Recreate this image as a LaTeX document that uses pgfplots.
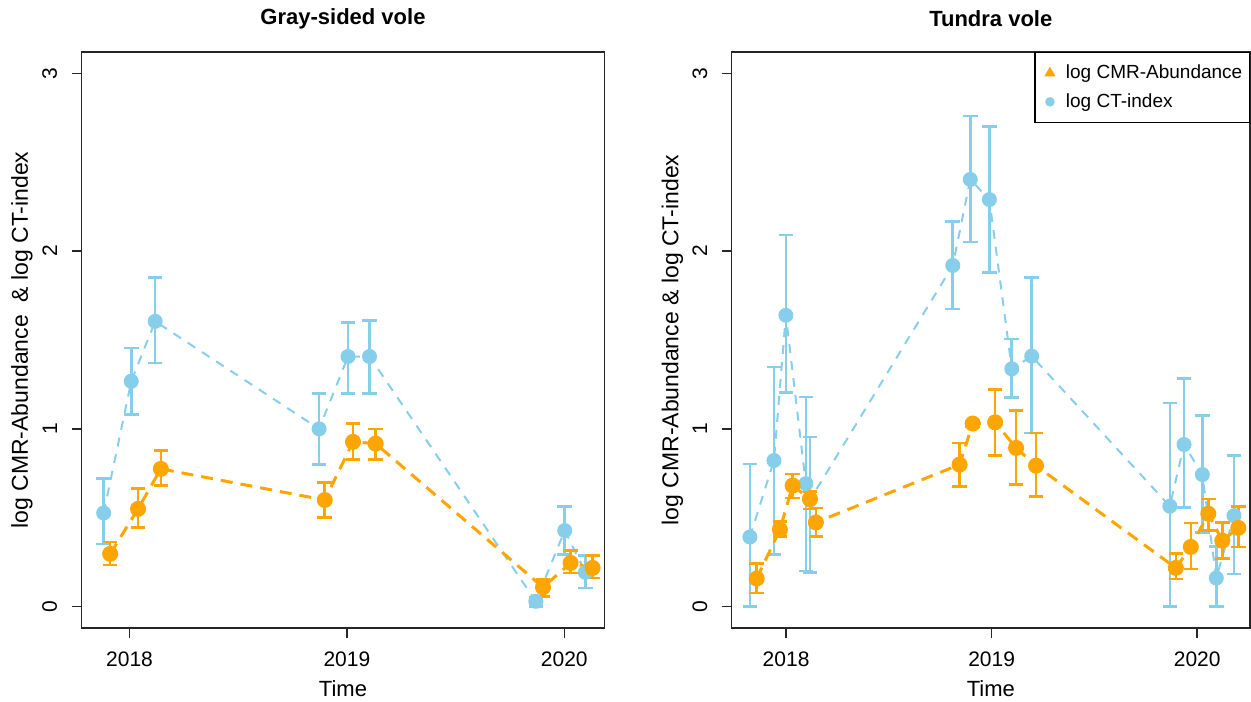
\documentclass[border=0pt]{standalone}
\usepackage{fontspec}
\setmainfont{Liberation Sans}
\usepackage{pgfplots}
\usepackage{pgfplotstable}
\pgfplotsset{compat=1.18}
\definecolor{sky}{HTML}{87CEEB}
\definecolor{org}{HTML}{FFA500}

% x y lo hi
\pgfplotstableread{
x y lo hi
2017.881 0.527 0.353 0.720
2018.008 1.268 1.080 1.456
2018.118 1.605 1.371 1.850
2018.872 1.000 0.800 1.200
2019.005 1.407 1.200 1.600
2019.104 1.407 1.200 1.610
2019.869 0.030 0.000 0.050
2020.002 0.428 0.293 0.564
2020.097 0.193 0.105 0.287
}\grayCT
\pgfplotstableread{
x y lo hi
2017.911 0.297 0.235 0.364
2018.039 0.550 0.446 0.664
2018.144 0.775 0.681 0.878
2018.898 0.600 0.500 0.700
2019.028 0.927 0.827 1.030
2019.132 0.917 0.827 1.000
2019.902 0.109 0.058 0.152
2020.029 0.246 0.190 0.315
2020.130 0.218 0.161 0.287
}\grayCMR
\pgfplotstableread{
x y lo hi
2017.824 0.392 0.000 0.803
2017.941 0.822 0.293 1.347
2017.999 1.639 1.203 2.090
2018.096 0.692 0.200 1.180
2018.116 0.600 0.193 0.955
2018.811 1.919 1.675 2.168
2018.896 2.403 2.052 2.759
2018.989 2.290 1.881 2.700
2019.098 1.338 1.178 1.506
2019.195 1.409 0.977 1.850
2019.867 0.565 0.000 1.146
2019.936 0.912 0.559 1.283
2020.025 0.743 0.418 1.075
2020.093 0.161 0.000 0.339
2020.179 0.512 0.184 0.850
}\tundraCT
\pgfplotstableread{
x y lo hi
2017.857 0.158 0.077 0.242
2017.970 0.433 0.396 0.480
2018.032 0.681 0.612 0.747
2018.116 0.606 0.550 0.649
2018.145 0.474 0.396 0.555
2018.844 0.799 0.677 0.921
2018.908 1.030 1.010 1.045
2019.017 1.037 0.850 1.221
2019.119 0.893 0.687 1.105
2019.216 0.793 0.621 0.977
2019.896 0.218 0.156 0.298
2019.969 0.336 0.212 0.471
2020.054 0.523 0.429 0.606
2020.122 0.371 0.272 0.474
2020.200 0.443 0.336 0.564
}\tundraCMR

\pgfplotsset{
  voleaxis/.style={
    scale only axis,
    anchor=south west,
    height=288pt,
    ymin=-0.12, ymax=3.12,
    ytick={0,1,2,3},
    xtick={2018,2019,2020},
    xticklabels={2018,2019,2020},
    tick align=outside,
    major tick length=5pt,
    axis line style={line width=0.7pt, black!85},
    every tick/.style={line width=0.7pt, black!85},
    xtick pos=bottom, ytick pos=left,
    /pgf/number format/assume math mode=true,
    tick label style={font=\fontsize{10.5}{12}\selectfont},
    xticklabel style={anchor=north, inner sep=0pt},
    xticklabel shift=6.5pt,
    yticklabel style={rotate=90, anchor=south, inner sep=0pt},
    yticklabel shift=7pt,
    xlabel={Time},
    xlabel style={at={(axis description cs:0.5,0)}, anchor=north, inner sep=0pt, yshift=-26pt, font=\fontsize{11}{13}\selectfont},
    ylabel style={at={(axis description cs:-0.114,0.5)}, anchor=center, inner sep=0pt, font=\fontsize{11.5}{13}\selectfont},
    title style={at={(axis description cs:0.5,1)}, anchor=center, yshift=10.5pt, inner sep=0pt, font=\bfseries\fontsize{11}{13}\selectfont},
    clip=false,
  },
  ctline/.style={color=sky, line width=1pt, dash pattern=on 4.5pt off 4pt,
    mark=*, mark size=3.25pt, mark options={solid, fill=sky, draw=sky},
    error bars/.cd, y dir=both, y explicit,
    error bar style={solid, line width=1.3pt, color=sky},
    error mark options={solid, line width=1.3pt, color=sky, mark size=3.65pt, rotate=90}},
  cmrline/.style={color=org, line width=1.5pt, dash pattern=on 6pt off 4pt,
    mark=*, mark size=3.25pt, mark options={solid, fill=org, draw=org},
    error bars/.cd, y dir=both, y explicit,
    error bar style={solid, line width=1.3pt, color=org},
    error mark options={solid, line width=1.3pt, color=org, mark size=3.65pt, rotate=90}},
}

\begin{document}
\begin{tikzpicture}[x=1pt,y=1pt]
\begin{axis}[voleaxis, at={(40.75pt,36.5pt)}, width=261.5pt,
  xmin=2017.779, xmax=2020.185,
  title={Gray-sided vole},
  ylabel={log CMR-Abundance\ \ \& log CT-index}]
\addplot+[ctline] table[x=x, y=y, y error plus expr=\thisrow{hi}-\thisrow{y}, y error minus expr=\thisrow{y}-\thisrow{lo}] {\grayCT};
\addplot+[cmrline] table[x=x, y=y, y error plus expr=\thisrow{hi}-\thisrow{y}, y error minus expr=\thisrow{y}-\thisrow{lo}] {\grayCMR};
\end{axis}
\begin{axis}[voleaxis, at={(365.8pt,36.5pt)}, width=259.2pt,
  xmin=2017.735, xmax=2020.257,
  title={Tundra vole},
  ylabel={log CMR-Abundance \& log CT-index},
  legend style={at={(1,1)}, anchor=north east, draw=black, line width=0.7pt,
    font=\fontsize{9.5}{11}\selectfont, inner xsep=1.5pt, inner ysep=4pt,
    row sep=2pt, cells={anchor=west}},
  legend image code/.code={\path[draw=none, fill=none] (0pt,-3pt) rectangle (12pt,3pt); \draw[#1] plot coordinates {(6pt,0pt)};}]
\addplot+[forget plot, ctline] table[x=x, y=y, y error plus expr=\thisrow{hi}-\thisrow{y}, y error minus expr=\thisrow{y}-\thisrow{lo}] {\tundraCT};
\addplot+[forget plot, cmrline] table[x=x, y=y, y error plus expr=\thisrow{hi}-\thisrow{y}, y error minus expr=\thisrow{y}-\thisrow{lo}] {\tundraCMR};
\addlegendimage{only marks, mark=triangle*, mark size=2.5pt, color=org}
\addlegendentry{log CMR-Abundance}
\addlegendimage{only marks, mark=*, mark size=2pt, color=sky}
\addlegendentry{log CT-index}
\end{axis}
\pgfresetboundingbox
\path (0pt,0pt) rectangle (625.5pt,350.5pt);
\end{tikzpicture}
\end{document}
